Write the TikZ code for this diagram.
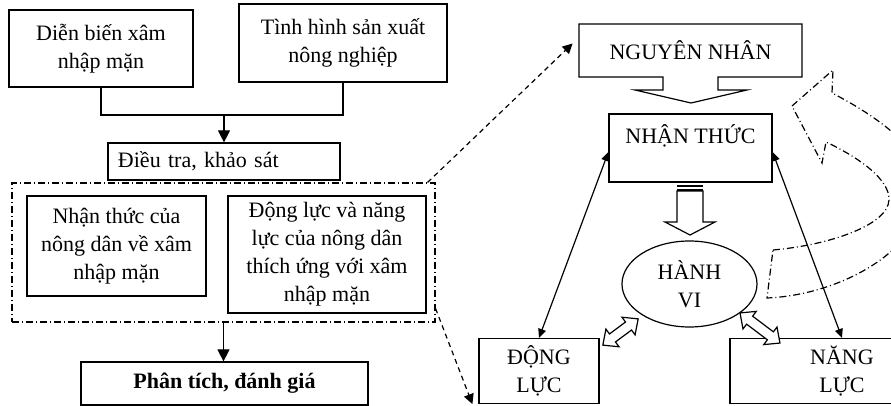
\documentclass[tikz,border=0pt]{standalone}
\usepackage{fontspec}
\setmainfont{Liberation Serif}
\usetikzlibrary{arrows.meta,shapes.geometric}

\begin{document}
\begin{tikzpicture}[x=0.5pt,y=-0.5pt,font=\fontsize{11}{14}\selectfont]
  \useasboundingbox (0,0) rectangle (891,406);
  \clip (0,0) rectangle (891,406);

  %stili
  \tikzset{hop/.style={draw, line width=0.6pt, align=center, inner sep=0pt},
           chamgach/.style={line width=0.6pt, dash pattern=on 3.5pt off 1.5pt on 0.5pt off 1.5pt},
           muiten/.style={-{Triangle[length=6pt,width=6pt]}, line width=0.6pt},
           netdut/.style={-{Triangle[length=5pt,width=5pt]}, line width=0.6pt, dash pattern=on 2.5pt off 2pt},
           hai/.style={{Triangle[length=4.5pt,width=4pt]}-{Triangle[length=4.5pt,width=4pt]}, line width=0.6pt},
           rong/.style={draw, line width=0.6pt, fill=white}}

  % riquadri a sinistra
  \node[hop, minimum width=92pt, minimum height=38.5pt] (dbien) at (101,48.5) {Diễn biến xâm\\nhập mặn};
  \node[hop, minimum width=104pt, minimum height=39pt] (tinhhinh) at (343,43) {Tình hình sản xuất\\nông nghiệp};
  \node[hop, minimum height=18.5pt, text width=106pt, inner xsep=5pt, align=left] (dieutra) at (224,161.5) {Điều tra, khảo sát};
  \node[draw, chamgach, minimum width=211.5pt, minimum height=69.5pt] (khung) at (223.5,252.5) {};
  \node[hop, minimum width=89.5pt, minimum height=50pt] (nthuc) at (116.5,246) {Nhận thức của\\nông dân về xâm\\nhập mặn};
  \node[hop, minimum width=99pt, minimum height=58.5pt] (dlnl) at (327,254.5) {Động lực và năng\\lực của nông dân\\thích ứng với xâm\\nhập mặn};
  \node[hop, minimum width=143.5pt, minimum height=21.5pt, font=\fontsize{11}{14}\selectfont\bfseries] (phantich) at (224.5,383.5) {Phân tích, đánh giá};

  % frecce a sinistra
  \coordinate (giao) at (224,115);
  \draw[line width=0.6pt] (dbien.south) |- (giao) -| (tinhhinh.south);
  \draw[muiten] (giao) -- (dieutra.north);
  \draw[muiten] (khung.south) -- (khung.south |- phantich.north);

  % riquadri a destra
  \node[minimum width=111.5pt, minimum height=26.5pt] (nguyennhan) at (690.5,50.5) {NGUYÊN NHÂN};
  \draw[line width=0.6pt] (579,24) -- (802,24) -- (802,77) -- (718,77) -- (718,90) -- (747,90)
    -- (691,103) -- (635,90) -- (663,90) -- (663,77) -- (579,77) -- cycle;
  \node[hop, minimum width=81.5pt, minimum height=34pt] (nhanthuc) at (690.5,148) {NHẬN THỨC\\\mbox{}};
  \node[draw, ellipse, line width=0.6pt, minimum width=67.5pt, minimum height=43pt, align=center, inner sep=0pt] (hanhvi) at (689.5,284) {HÀNH\\VI};
  \node[hop, minimum width=60pt, minimum height=32.5pt] (dongluc) at (539,371) {ĐỘNG\\LỰC};
  \node[hop, minimum width=112pt, minimum height=32.5pt] (nangluc) at (842,371) {NĂNG\\LỰC};

  % freccia a righe
  \fill (677,185) rectangle (703,187.5);
  \fill (677,189) rectangle (703,191);
  \draw[line width=0.6pt] (677,191) -- (677,222) -- (665,222) -- (690,235) -- (715,222) -- (703,222) -- (703,191) -- cycle;

  % frecce doppie
  \draw[hai] ([yshift=-2pt]nhanthuc.west) -- (dongluc.north);
  \draw[hai] ([yshift=-2pt]nhanthuc.east) -- (nangluc.north);
  \begin{scope}[shift={(620.5,332)}, rotate=36.6]
    \draw[rong] (-22,0) -- (-10,11) -- (-10,5) -- (10,5) -- (10,11) -- (22,0)
      -- (10,-11) -- (10,-5) -- (-10,-5) -- (-10,-11) -- cycle;
  \end{scope}
  \begin{scope}[shift={(760,328)}, rotate=-37]
    \draw[rong] (-25,0) -- (-13,11) -- (-13,5) -- (13,5) -- (13,11) -- (25,0)
      -- (13,-11) -- (13,-5) -- (-13,-5) -- (-13,-11) -- cycle;
  \end{scope}

  % frecce tratteggiate
  \draw[netdut] ([xshift=-4pt]khung.north east) -- ([xshift=-3pt,yshift=3.5pt]nguyennhan.west);
  \draw[netdut] ([yshift=7pt]khung.south east) -- ([xshift=-3pt]dongluc.south west);

  % freccia curva
  \draw[chamgach] (773,250) .. controls (830,245) and (888,225) .. (889,200)
    .. controls (890,180) and (860,158) .. (826,142)
    -- (822,163) -- (792,106) -- (833,70) -- (832,93)
    .. controls (875,115) and (925,150) .. (925,185)
    .. controls (925,250) and (840,295) .. (767,298) -- cycle;

\end{tikzpicture}
\end{document}
